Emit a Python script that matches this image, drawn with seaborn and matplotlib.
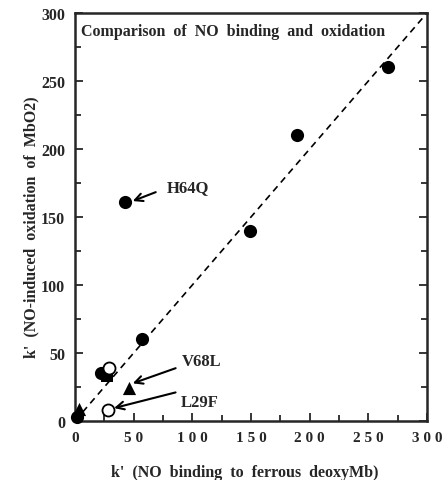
import matplotlib
matplotlib.use('Agg')
from matplotlib import pyplot as plt
import pandas as pd
import seaborn as sns

# data
filled_x = [267, 189, 149, 57, 43, 22, 2]
filled_y = [260, 210, 140, 60, 161, 35, 3]
open_x = [29, 28]
open_y = [39, 8]
square_x = [27]
square_y = [33]
tri_x = [46, 3]
tri_y = [24, 9]

labels = ['H64Q', 'V68L', 'L29F']
label_xy = [(78, 172), (91, 44), (90, 14)]
arrow_tail = [(71, 169), (88, 39.5), (88, 21.5)]
arrow_head = [(47, 161), (47, 27), (31, 9)]

ticks = [0, 50, 100, 150, 200, 250, 300]

sns.set_style('ticks')
plt.rcParams['font.family'] = ['Liberation Serif', 'DejaVu Serif']
plt.rcParams['font.weight'] = 'bold'

fig = plt.figure(figsize=(4.43, 4.81), dpi=100)
ax = fig.add_axes([0.1693, 0.1227, 0.7946, 0.8482])

# identity line
ax.plot([0, 300], [0, 300], ls=(0, (4, 3)), color='black', lw=1.2, zorder=1)

sns.scatterplot(x=filled_x, y=filled_y, ax=ax, marker='o', s=90,
                color='black', edgecolor='black', linewidth=0, zorder=3,
                clip_on=False)
sns.scatterplot(x=square_x, y=square_y, ax=ax, marker='s', s=70,
                color='black', edgecolor='black', linewidth=0, zorder=3)
sns.scatterplot(x=tri_x, y=tri_y, ax=ax, marker='^', s=90,
                color='black', edgecolor='black', linewidth=0, zorder=3,
                clip_on=False)
sns.scatterplot(x=open_x, y=open_y, ax=ax, marker='o', s=75,
                facecolor='white', edgecolor='black', linewidth=1.3, zorder=4)

for lab, xy, t, h in zip(labels, label_xy, arrow_tail, arrow_head):
    ax.annotate('', xy=h, xytext=t,
                arrowprops=dict(arrowstyle='->', color='black', lw=1.5,
                                mutation_scale=14))
    ax.text(xy[0], xy[1], lab, fontsize=12, fontweight='bold',
            ha='left', va='center')

ax.text(5.5, 287, 'Comparison  of  NO  binding  and  oxidation',
        fontsize=11.5, fontweight='bold', ha='left', va='center')

ax.set_xlim(0, 300)
ax.set_ylim(0, 300)
ax.set_xticks(ticks)
ax.set_yticks(ticks)
ax.set_xticklabels([' '.join(str(t)) for t in ticks])
ax.set_xticks([25, 75, 125, 175, 225, 275], minor=True)
ax.set_yticks([25, 75, 125, 175, 225, 275], minor=True)
ax.tick_params(which='both', direction='in', left=True, right=True,
               bottom=True, top=False, width=1.3)
ax.tick_params(axis='x', labelsize=11)
ax.tick_params(axis='y', labelsize=11.5)
ax.tick_params(which='major', length=6, pad=7)
ax.tick_params(which='minor', length=4)
for lab in ax.get_xticklabels() + ax.get_yticklabels():
    lab.set_fontweight('bold')
for sp in ax.spines.values():
    sp.set_visible(True)
    sp.set_linewidth(1.8)

ax.set_xlabel("k'  (NO  binding  to  ferrous  deoxyMb)", fontsize=11.5,
              fontweight='bold')
ax.set_ylabel("k'  (NO-induced  oxidation  of  MbO2)", fontsize=11.5,
              fontweight='bold')
ax.xaxis.set_label_coords(0.483, -0.105)
ax.yaxis.set_label_coords(-0.102, 0.478)

fig.savefig('out.png', dpi=100)
